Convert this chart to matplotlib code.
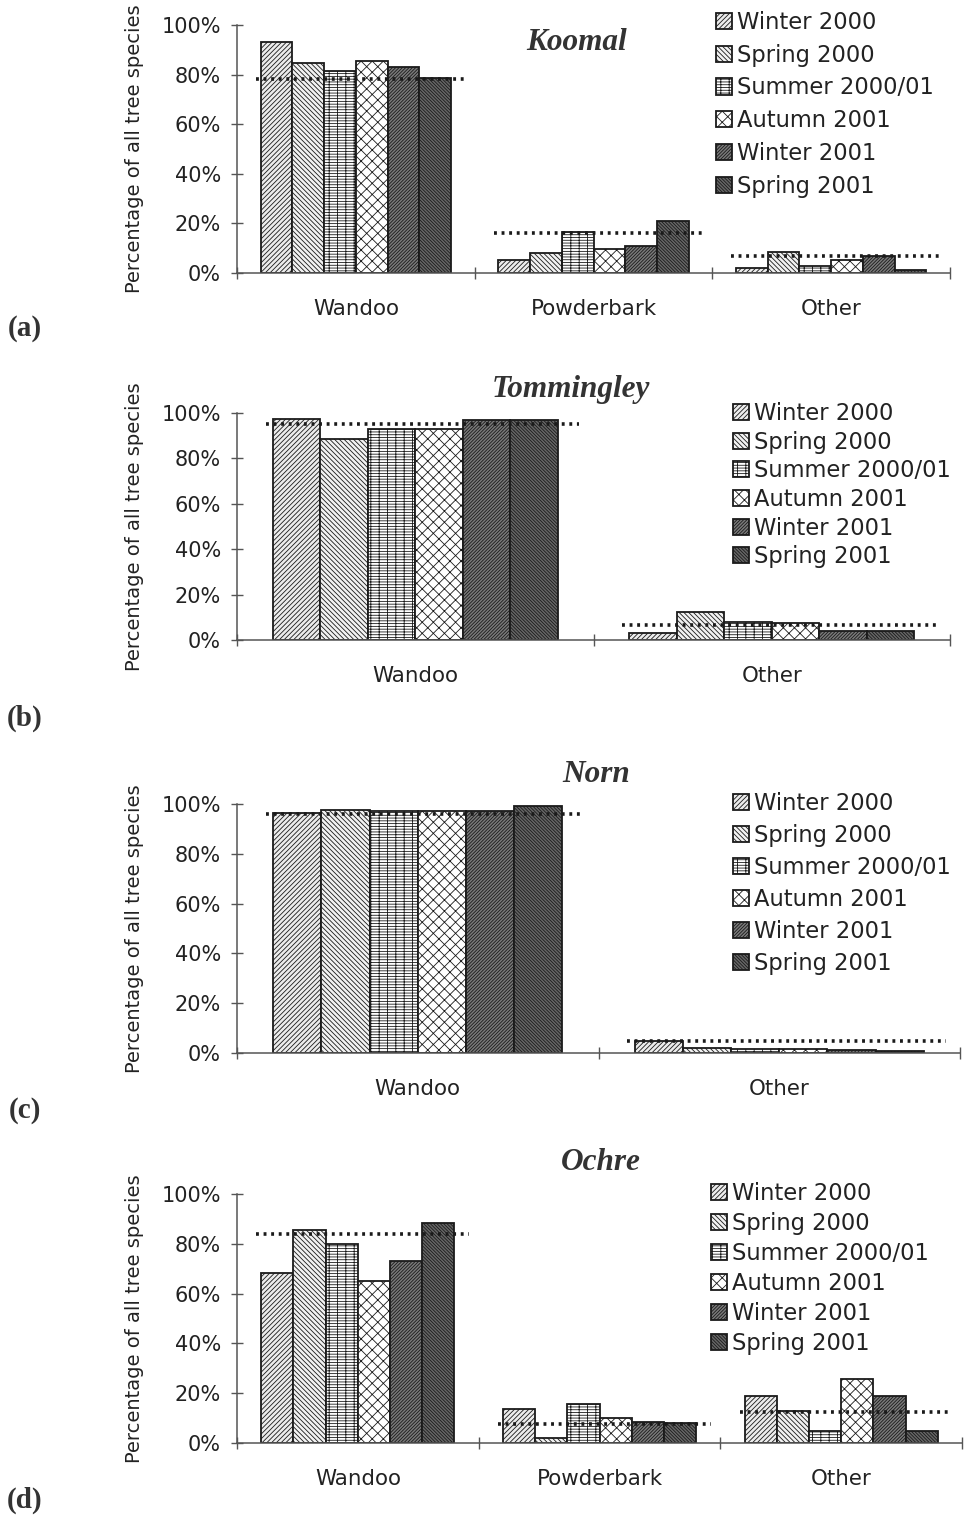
import matplotlib
matplotlib.use("Agg")
import matplotlib.pyplot as plt
import numpy as np

plt.rcParams['font.family'] = ['DejaVu Sans']
plt.rcParams['hatch.linewidth'] = 0.6

seasons = ["Winter 2000", "Spring 2000", "Summer 2000/01", "Autumn 2001", "Winter 2001", "Spring 2001"]

# (a) Koomal
koomal_cats = ["Wandoo", "Powderbark", "Other"]
koomal_wandoo = [93, 84.5, 81.5, 85.5, 83, 78.5]
koomal_powderbark = [5.3, 8, 16.4, 9.8, 10.7, 21]
koomal_other = [1.9, 8.3, 3, 5.3, 7, 1.2]
koomal_mean = [78.3, 16.3, 7]

# (b) Tommingley
tommingley_cats = ["Wandoo", "Other"]
tommingley_wandoo = [97.4, 88.4, 92.8, 92.8, 96.9, 96.9]
tommingley_other = [3, 12.4, 8, 7.6, 4, 4]
tommingley_mean = [95.2, 6.5]

# (c) Norn
norn_cats = ["Wandoo", "Other"]
norn_wandoo = [96.3, 97.6, 97.3, 97.3, 97.3, 99.2]
norn_other = [5, 2, 1.5, 1.5, 1.2, 1]
norn_mean = [96, 5]

# (d) Ochre
ochre_cats = ["Wandoo", "Powderbark", "Other"]
ochre_wandoo = [68.4, 85.5, 79.9, 65, 73.2, 88.2]
ochre_powderbark = [13.5, 2, 15.5, 9.9, 8.3, 7.9]
ochre_other = [18.9, 12.9, 4.9, 25.6, 18.9, 4.8]
ochre_mean = [83.9, 7.6, 12.3]

yticks = [0, 20, 40, 60, 80, 100]
ytick_labels = ["0%", "20%", "40%", "60%", "80%", "100%"]

faces = ['#ececec', '#f2f2f2', '#ffffff', '#ffffff', '#7a7a7a', '#666666']
hatches = ['///////', '\\' * 7, '------||', 'xxx', '//////////', '\\' * 10]

W, H = 965, 1519
TXT = '#222222'
SP = '#555555'

fig = plt.figure(figsize=(W / 100, H / 100), dpi=100)


def rect(l, r, t, b):
    return [l / W, 1 - b / H, (r - l) / W, (b - t) / H]


def panel(box, cats, groups, means, title, title_xy, letter, letter_y, leg_xy, leg_spacing):
    ax = fig.add_axes(rect(*box))
    n = len(seasons)
    gw = 0.8
    bw = gw / n
    centers = np.arange(len(cats)) + 0.5
    vals = np.array(groups)  # shape (ncat, nseason)
    for k in range(n):
        x = centers - gw / 2 + (k + 0.5) * bw
        ax.bar(x, vals[:, k], width=bw, facecolor=faces[k], edgecolor='#1a1a1a',
               linewidth=1.3, hatch=hatches[k], label=seasons[k], zorder=2)
    for c, m in zip(centers, means):
        ax.plot([c - 0.42, c + 0.46], [m, m], color='#1a1a1a', lw=2.6,
                linestyle=(0, (0.8, 1.3)), dash_capstyle='butt', zorder=3)
    ax.set_xlim(0, len(cats))
    ax.set_ylim(0, 100)
    ax.set_yticks(yticks)
    ax.set_yticklabels(ytick_labels)
    ax.set_xticks(centers)
    ax.set_xticklabels(cats)
    ax.set_xticks(np.arange(len(cats) + 1), minor=True)
    ax.tick_params(axis='x', which='major', length=0, pad=18.5, labelsize=15.4, labelcolor=TXT)
    ax.tick_params(axis='x', which='minor', length=9, direction='inout', color=SP, width=1)
    ax.tick_params(axis='y', length=9, direction='inout', color=SP, width=1, pad=7,
                   labelsize=15, labelcolor=TXT)
    for s in ['top', 'right']:
        ax.spines[s].set_visible(False)
    for s in ['left', 'bottom']:
        ax.spines[s].set_color(SP)
        ax.spines[s].set_linewidth(1.1)
    ax.patch.set_alpha(0)
    cy = 1 - ((box[2] + box[3]) / 2) / H
    fig.text(135 / W, cy, "Percentage of all tree species", rotation=90,
             ha='center', va='center', fontsize=14, color=TXT)
    fig.text(title_xy[0] / W, 1 - title_xy[1] / H, title, ha='center', va='center',
             fontsize=22.5, fontweight='bold', fontstyle='italic',
             family=['Liberation Serif', 'DejaVu Serif'], color='#333333')
    fig.text(25 / W, 1 - letter_y / H, letter, ha='center', va='center', fontsize=21,
             fontweight='bold', family=['Liberation Serif', 'DejaVu Serif'], color='#333333')
    leg = ax.legend(loc='upper left', bbox_to_anchor=(leg_xy[0] / W, 1 - leg_xy[1] / H),
                    bbox_transform=fig.transFigure, frameon=False, fontsize=16.3,
                    handlelength=0.72, handleheight=0.72, handletextpad=0.2,
                    labelspacing=leg_spacing, borderpad=0, borderaxespad=0)
    for t in leg.get_texts():
        t.set_color(TXT)
    return ax


panel((237, 950, 25, 273), koomal_cats,
      [koomal_wandoo, koomal_powderbark, koomal_other], koomal_mean,
      "Koomal", (577, 43), "(a)", 328, (716, 11), 0.43)
panel((237, 950, 413, 640), tommingley_cats,
      [tommingley_wandoo, tommingley_other], tommingley_mean,
      "Tommingley", (571, 390), "(b)", 718, (733, 402), 0.25)
panel((237, 960, 804, 1053), norn_cats,
      [norn_wandoo, norn_other], norn_mean,
      "Norn", (596, 775), "(c)", 1110, (733, 792), 0.4)
panel((237, 962, 1194, 1443), ochre_cats,
      [ochre_wandoo, ochre_powderbark, ochre_other], ochre_mean,
      "Ochre", (601, 1163), "(d)", 1500, (711, 1182), 0.31)

fig.savefig("out.png", dpi=100, facecolor='white')
